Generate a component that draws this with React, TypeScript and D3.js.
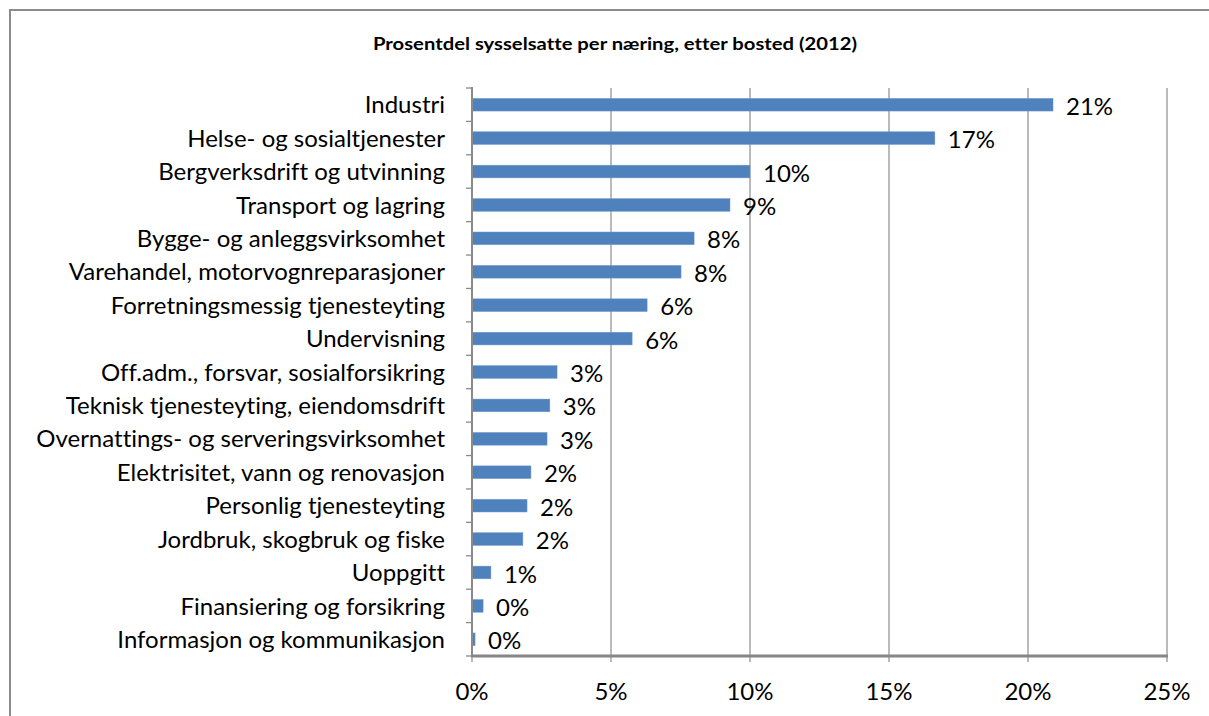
import React from "react";
import * as d3 from "d3";

const categories = [
  "Industri",
  "Helse- og sosialtjenester",
  "Bergverksdrift og utvinning",
  "Transport og lagring",
  "Bygge- og anleggsvirksomhet",
  "Varehandel, motorvognreparasjoner",
  "Forretningsmessig tjenesteyting",
  "Undervisning",
  "Off.adm., forsvar, sosialforsikring",
  "Teknisk tjenesteyting, eiendomsdrift",
  "Overnattings- og serveringsvirksomhet",
  "Elektrisitet, vann og renovasjon",
  "Personlig tjenesteyting",
  "Jordbruk, skogbruk og fiske",
  "Uoppgitt",
  "Finansiering og forsikring",
  "Informasjon og kommunikasjon",
];
const values = [20.9, 16.65, 10.0, 9.28, 7.99, 7.52, 6.3, 5.76, 3.06, 2.8, 2.7, 2.12, 1.98, 1.83, 0.68, 0.4, 0.11];
const xTicks = [0, 5, 10, 15, 20, 25];
const title = "Prosentdel sysselsatte per næring, etter bosted (2012)";

const W = 1209;
const H = 716;
const left = 472;
const right = 1167;
const top = 88;
const bottom = 656;
const font = "Lato, 'Open Sans', sans-serif";
const fs = 24;
const noLig = { fontVariantLigatures: "none" as const };

export default function App() {
  const x = d3.scaleLinear().domain([0, 25]).range([left, right]);
  const y = d3.scaleBand().domain(categories).range([top, bottom]).paddingInner(0.62).paddingOuter(0.31);
  const boundaries = d3.range(categories.length + 1).map((i) => top + (i * (bottom - top)) / categories.length);
  return (
    <svg width={W} height={H} style={{ position: "absolute", left: 0, top: 0, background: "#fff" }}>
      <rect x={10} y={10} width={W + 20} height={H + 20} fill="#fff" stroke="#8c8c8c" strokeWidth={2} />
      <text
        x={373}
        y={50}
        textLength={484}
        lengthAdjust="spacingAndGlyphs"
        fontFamily={font}
        fontWeight="bold"
        fontSize={16.5}
        fill="#000"
        style={noLig}
      >
        {title}
      </text>
      {xTicks.map((t) => (
        <line key={"g" + t} x1={x(t)} x2={x(t)} y1={top} y2={bottom + 6} stroke="#969696" strokeWidth={1.3} />
      ))}
      {boundaries.map((b, i) => (
        <line key={"yt" + i} x1={left - 6} x2={left} y1={b} y2={b} stroke="#8a8a8a" strokeWidth={1.3} />
      ))}
      {categories.map((c, i) => (
        <g key={c}>
          <rect
            x={x(0)}
            y={y(c)!}
            width={x(values[i]) - x(0)}
            height={y.bandwidth()}
            fill="#4f81bd"
            stroke="#6f9ad0"
            strokeWidth={0.5}
          />
          <text
            x={445}
            y={y(c)! + y.bandwidth() / 2}
            dy="0.36em"
            textAnchor="end"
            fontFamily={font}
            fontSize={fs}
            fill="#000"
            style={noLig}
          >
            {c}
          </text>
          <text
            x={x(values[i]) + 13}
            y={y(c)! + y.bandwidth() / 2}
            dy="0.42em"
            textAnchor="start"
            fontFamily={font}
            fontSize={fs}
            fill="#000"
          >
            {d3.format(".0f")(values[i]) + "%"}
          </text>
        </g>
      ))}
      <line x1={left} x2={left} y1={top - 1} y2={bottom} stroke="#8a8a8a" strokeWidth={2} />
      <line x1={left - 1} x2={right + 1} y1={bottom} y2={bottom} stroke="#868686" strokeWidth={3} />
      {xTicks.map((t) => (
        <text key={"xl" + t} x={x(t)} y={700} textAnchor="middle" fontFamily={font} fontSize={fs} fill="#000">
          {t + "%"}
        </text>
      ))}
    </svg>
  );
}
